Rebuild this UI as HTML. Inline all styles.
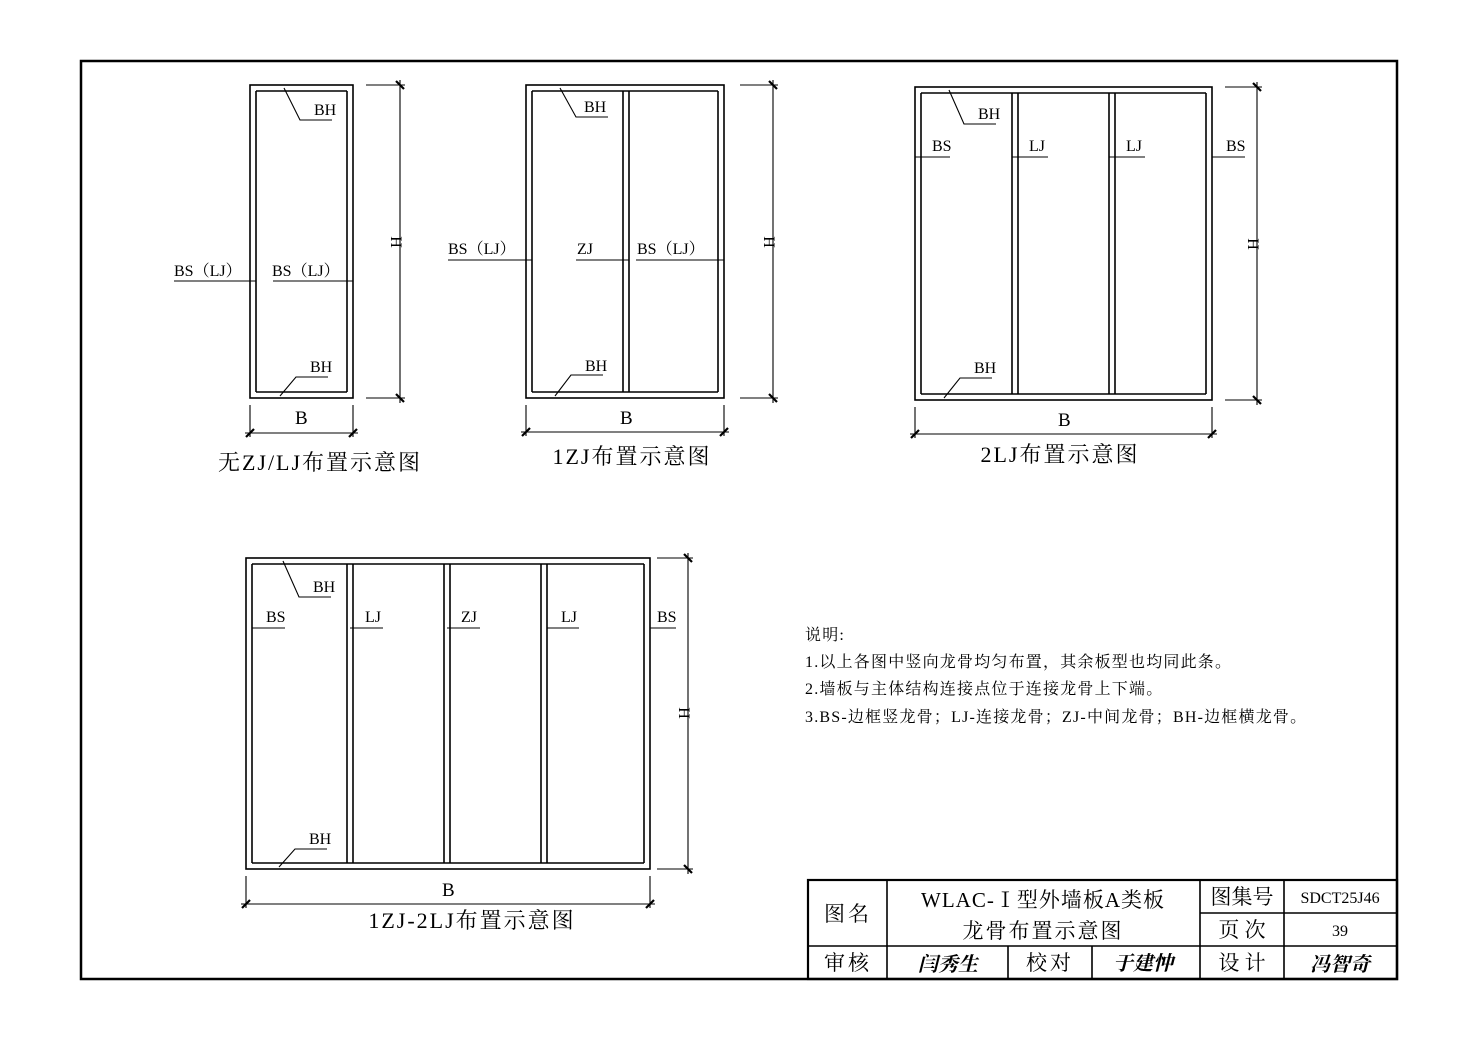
<!DOCTYPE html>
<html><head><meta charset="utf-8"><style>
html,body{margin:0;padding:0;background:#fff}
svg{display:block}
text{font-family:"Liberation Serif","Noto Serif CJK SC",serif;fill:#000}
.l text{font-size:16px}
.t text{font-size:22px;letter-spacing:2px}
.n text{font-size:16px;letter-spacing:1.2px}
</style></head><body>
<svg width="1477" height="1039" viewBox="0 0 1477 1039" xmlns="http://www.w3.org/2000/svg">
<g fill="none" stroke="#000" stroke-width="1.6">
<rect x="81" y="61" width="1316" height="918" stroke-width="2.5"/>
<rect x="250" y="85" width="103" height="313"/>
<line x1="256" y1="91" x2="256" y2="392"/><line x1="347" y1="91" x2="347" y2="392"/>
<line x1="256" y1="91" x2="347" y2="91"/><line x1="256" y1="392" x2="347" y2="392"/>
<rect x="526" y="85" width="198" height="313"/>
<line x1="532" y1="91" x2="532" y2="392"/><line x1="718" y1="91" x2="718" y2="392"/>
<line x1="532" y1="91" x2="718" y2="91"/><line x1="532" y1="392" x2="718" y2="392"/>
<line x1="623" y1="91" x2="623" y2="392"/><line x1="629" y1="91" x2="629" y2="392"/>
<rect x="915" y="87" width="297" height="313"/>
<line x1="921" y1="93" x2="921" y2="394"/><line x1="1206" y1="93" x2="1206" y2="394"/>
<line x1="921" y1="93" x2="1206" y2="93"/><line x1="921" y1="394" x2="1206" y2="394"/>
<line x1="1012" y1="93" x2="1012" y2="394"/><line x1="1018" y1="93" x2="1018" y2="394"/>
<line x1="1109" y1="93" x2="1109" y2="394"/><line x1="1115" y1="93" x2="1115" y2="394"/>
<rect x="246" y="558" width="404" height="311"/>
<line x1="252" y1="564" x2="252" y2="863"/><line x1="644" y1="564" x2="644" y2="863"/>
<line x1="252" y1="564" x2="644" y2="564"/><line x1="252" y1="863" x2="644" y2="863"/>
<line x1="347" y1="564" x2="347" y2="863"/><line x1="353" y1="564" x2="353" y2="863"/>
<line x1="444" y1="564" x2="444" y2="863"/><line x1="450" y1="564" x2="450" y2="863"/>
<line x1="541" y1="564" x2="541" y2="863"/><line x1="547" y1="564" x2="547" y2="863"/>
</g>

<g fill="none" stroke="#000" stroke-width="1.1">
<polyline points="284,88 300,120 332,120"/><polyline points="280,396 296,377 328,377"/>
<line x1="174" y1="281" x2="256" y2="281"/><line x1="273" y1="281" x2="353" y2="281"/>
<line x1="366" y1="85" x2="405" y2="85"/><line x1="366" y1="398" x2="405" y2="398"/>
<line x1="400" y1="80" x2="400" y2="403"/>
<line x1="250" y1="405" x2="250" y2="437"/><line x1="353" y1="405" x2="353" y2="437"/>
<line x1="245" y1="433" x2="358" y2="433"/>
<polyline points="560,88 576,117 608,117"/><polyline points="555,396 571,375 603,375"/>
<line x1="448" y1="260" x2="532" y2="260"/><line x1="576" y1="260" x2="629" y2="260"/><line x1="636" y1="260" x2="724" y2="260"/>
<line x1="740" y1="85" x2="778" y2="85"/><line x1="740" y1="398" x2="778" y2="398"/>
<line x1="773" y1="80" x2="773" y2="403"/>
<line x1="526" y1="405" x2="526" y2="436"/><line x1="724" y1="405" x2="724" y2="436"/>
<line x1="521" y1="432" x2="729" y2="432"/>
<polyline points="949,90 964,124 996,124"/><polyline points="944,398 960,378 992,378"/>
<line x1="915" y1="157" x2="950" y2="157"/><line x1="1012" y1="157" x2="1048" y2="157"/>
<line x1="1109" y1="157" x2="1145" y2="157"/><line x1="1212" y1="157" x2="1245" y2="157"/>
<line x1="1225" y1="87" x2="1262" y2="87"/><line x1="1225" y1="400" x2="1262" y2="400"/>
<line x1="1257" y1="82" x2="1257" y2="405"/>
<line x1="915" y1="407" x2="915" y2="438"/><line x1="1212" y1="407" x2="1212" y2="438"/>
<line x1="910" y1="434" x2="1217" y2="434"/>
<polyline points="283,561 299,597 331,597"/><polyline points="279,867 295,849 327,849"/>
<line x1="252" y1="628" x2="285" y2="628"/><line x1="350" y1="628" x2="383" y2="628"/>
<line x1="447" y1="628" x2="480" y2="628"/><line x1="547" y1="628" x2="579" y2="628"/>
<line x1="650" y1="628" x2="676" y2="628"/>
<line x1="657" y1="558" x2="693" y2="558"/><line x1="657" y1="869" x2="693" y2="869"/>
<line x1="688" y1="553" x2="688" y2="874"/>
<line x1="246" y1="876" x2="246" y2="908"/><line x1="650" y1="876" x2="650" y2="908"/>
<line x1="241" y1="904" x2="655" y2="904"/>
</g>
<g stroke="#000" stroke-width="2.2">
<line x1="396" y1="81" x2="404" y2="89"/><line x1="396" y1="394" x2="404" y2="402"/>
<line x1="246" y1="437" x2="254" y2="429"/><line x1="349" y1="437" x2="357" y2="429"/>
<line x1="769" y1="81" x2="777" y2="89"/><line x1="769" y1="394" x2="777" y2="402"/>
<line x1="522" y1="436" x2="530" y2="428"/><line x1="720" y1="436" x2="728" y2="428"/>
<line x1="1253" y1="83" x2="1261" y2="91"/><line x1="1253" y1="396" x2="1261" y2="404"/>
<line x1="911" y1="438" x2="919" y2="430"/><line x1="1208" y1="438" x2="1216" y2="430"/>
<line x1="684" y1="554" x2="692" y2="562"/><line x1="684" y1="865" x2="692" y2="873"/>
<line x1="242" y1="908" x2="250" y2="900"/><line x1="646" y1="908" x2="654" y2="900"/>
</g>

<g class="l">
<text x="314" y="115">BH</text><text x="310" y="372">BH</text>
<text x="174" y="276">BS（LJ）</text><text x="272" y="276">BS（LJ）</text>
<text x="295" y="424" style="font-size:19px">B</text>
<text x="584" y="112">BH</text><text x="585" y="371">BH</text>
<text x="448" y="254">BS（LJ）</text><text x="577" y="254">ZJ</text><text x="637" y="254">BS（LJ）</text>
<text x="620" y="424" style="font-size:19px">B</text>
<text x="978" y="119">BH</text><text x="974" y="373">BH</text>
<text x="932" y="151">BS</text><text x="1029" y="151">LJ</text><text x="1126" y="151">LJ</text><text x="1226" y="151">BS</text>
<text x="1058" y="426" style="font-size:19px">B</text>
<text x="313" y="592">BH</text><text x="309" y="844">BH</text>
<text x="266" y="622">BS</text><text x="365" y="622">LJ</text><text x="461" y="622">ZJ</text><text x="561" y="622">LJ</text><text x="657" y="622">BS</text>
<text x="442" y="896" style="font-size:19px">B</text>
<text transform="translate(391,242) rotate(90)" text-anchor="middle">H</text>
<text transform="translate(764,242) rotate(90)" text-anchor="middle">H</text>
<text transform="translate(1248,244) rotate(90)" text-anchor="middle">H</text>
<text transform="translate(679,713) rotate(90)" text-anchor="middle">H</text>
</g>
<g class="t">
<text x="320" y="470" text-anchor="middle">无ZJ/LJ布置示意图</text>
<text x="632" y="464" text-anchor="middle">1ZJ布置示意图</text>
<text x="1060" y="462" text-anchor="middle">2LJ布置示意图</text>
<text x="472" y="928" text-anchor="middle">1ZJ-2LJ布置示意图</text>
</g>
<g class="n">
<text x="805" y="640">说明:</text>
<text x="805" y="667">1.以上各图中竖向龙骨均匀布置，其余板型也均同此条。</text>
<text x="805" y="694">2.墙板与主体结构连接点位于连接龙骨上下端。</text>
<text x="805" y="722">3.BS-边框竖龙骨；LJ-连接龙骨；ZJ-中间龙骨；BH-边框横龙骨。</text>
</g>

<g fill="none" stroke="#000" stroke-width="1.6">
<rect x="808" y="880" width="589" height="99" stroke-width="2.2"/>
<line x1="887" y1="880" x2="887" y2="979"/>
<line x1="1200" y1="880" x2="1200" y2="979"/>
<line x1="1284" y1="880" x2="1284" y2="979"/>
<line x1="808" y1="946" x2="1397" y2="946"/>
<line x1="1200" y1="913" x2="1397" y2="913"/>
<line x1="1008" y1="946" x2="1008" y2="979"/>
<line x1="1092" y1="946" x2="1092" y2="979"/>
</g>
<g font-size="21" text-anchor="middle">
<text x="848" y="921" letter-spacing="3">图名</text>
<text x="1043" y="907" letter-spacing="1">WLAC-Ⅰ型外墙板A类板</text>
<text x="1043" y="938" letter-spacing="2">龙骨布置示意图</text>
<text x="1242" y="904">图集号</text>
<text x="1242" y="937">页 次</text>
<text x="848" y="970" letter-spacing="3">审核</text>
<text x="1050" y="970" letter-spacing="3">校对</text>
<text x="1242" y="970">设 计</text>
<text x="1340" y="903" font-size="16">SDCT25J46</text>
<text x="1340" y="936" font-size="16">39</text>
<text x="948" y="971" font-style="italic" font-weight="bold" font-size="20">闫秀生</text>
<text x="1143" y="970" font-style="italic" font-weight="bold" font-size="20">于建忡</text>
<text x="1340" y="971" font-style="italic" font-weight="bold" font-size="20">冯智奇</text>
</g>
</svg>
</body></html>
